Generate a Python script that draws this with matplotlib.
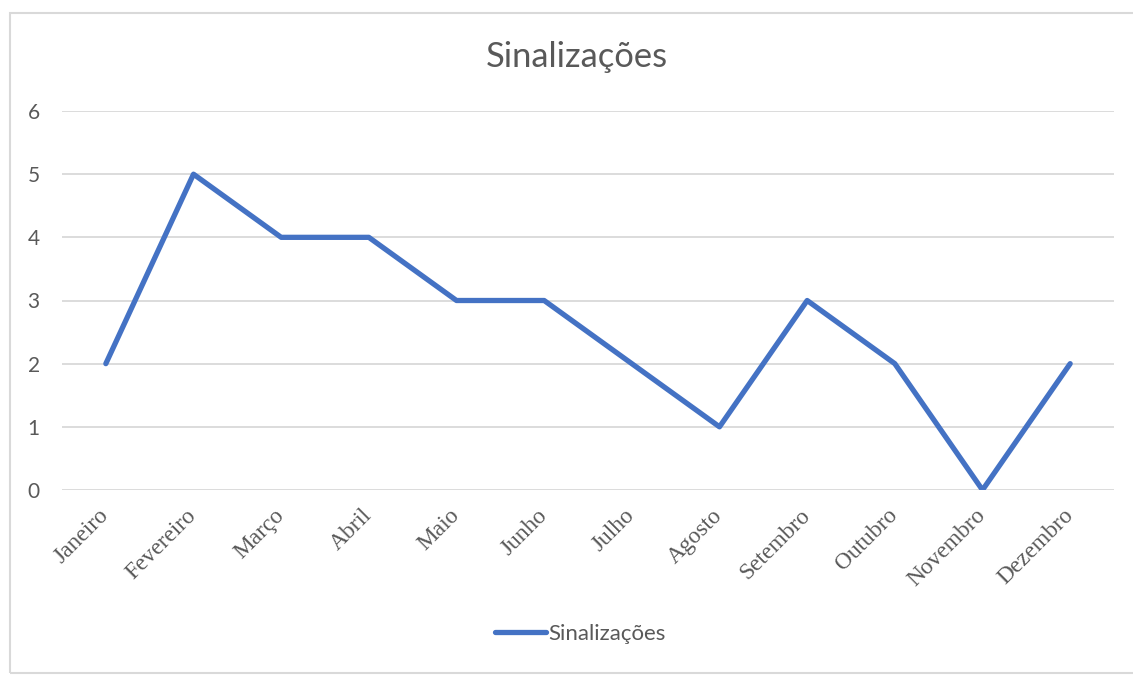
import matplotlib
matplotlib.use("Agg")
import matplotlib.pyplot as plt
from matplotlib.patches import Rectangle

meses = ["Janeiro", "Fevereiro", "Março", "Abril", "Maio", "Junho",
         "Julho", "Agosto", "Setembro", "Outubro", "Novembro", "Dezembro"]
sinalizacoes = [2, 5, 4, 4, 3, 3, 2, 1, 3, 2, 0, 2]
yticks = [0, 1, 2, 3, 4, 5, 6]

grey = "#595959"
grid = "#D9D9D9"

fig = plt.figure(figsize=(11.33, 6.75), dpi=100)
ax = fig.add_axes([62 / 1133, 1 - 490 / 675, (1114 - 62) / 1133, (490 - 111) / 675])

x = list(range(len(meses)))
ax.plot(x, sinalizacoes, color="#4472C4", linewidth=3.8,
        solid_joinstyle="round", solid_capstyle="round", label="Sinalizações", zorder=3)

ax.set_xlim(-0.5, len(meses) - 0.5)
ax.set_ylim(0, 6)
ax.set_yticks(yticks)
ax.set_yticklabels([str(v) for v in yticks], fontfamily="Lato", fontsize=15, color=grey)
ax.set_xticks(x)
ax.set_xticklabels(meses, rotation=45, ha="right", va="center", rotation_mode="anchor",
                   fontfamily="Liberation Serif", fontsize=16.8, color=grey)
ax.tick_params(axis="y", length=0, pad=16)
ax.tick_params(axis="x", length=0, pad=16)
ax.grid(axis="y", color=grid, linewidth=1.3)
ax.set_axisbelow(True)
for s in ax.spines.values():
    s.set_visible(False)

fig.text(577 / 1133, 1 - 57 / 675, "Sinalizações", ha="center", va="center",
         fontfamily="Lato", fontsize=24.8, color=grey)

leg = fig.legend(loc="center", bbox_to_anchor=(580 / 1133, 1 - 634 / 675), frameon=False,
                 prop={"family": "Lato", "size": 16}, handlelength=2.3, handletextpad=0.1)
for t in leg.get_texts():
    t.set_color(grey)

fig.add_artist(Rectangle((10 / 1133, 2 / 675), 1.0, (673 - 13) / 675, transform=fig.transFigure,
                         fill=False, edgecolor=grid, linewidth=1.5))

fig.savefig("out.png", dpi=100)
